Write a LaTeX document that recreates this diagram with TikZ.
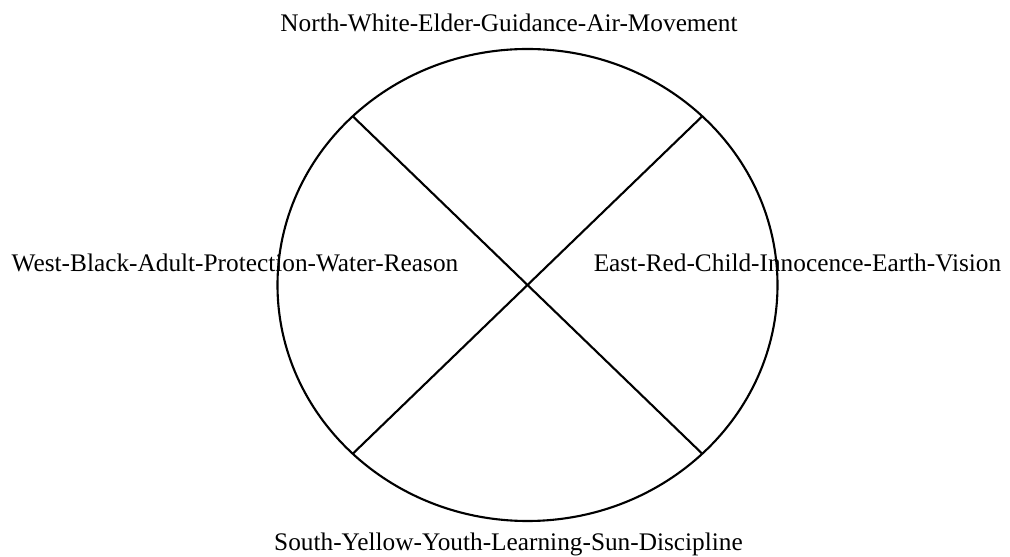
\documentclass[tikz,border=0pt]{standalone}
\usepackage{fontspec}
\setmainfont{Liberation Serif}
\usetikzlibrary{shapes.geometric}
\tikzset{
  compass/.style={font=\fontsize{7.2}{9}\selectfont,inner sep=0pt,anchor=base},
  ring/.style={draw,ellipse,line width=0.6pt,inner sep=0pt,outer sep=0pt,
               minimum width=5cm,minimum height=4.72cm},
  spoke/.style={line width=0.6pt},
}
\begin{document}
\begin{tikzpicture}
  \useasboundingbox (0,0) rectangle (10.10,5.57);

  % the circle and its two crossing spokes
  \node[ring] (wheel) at (5.275,2.72) {};
  \draw[spoke] (wheel.136) -- (wheel.-44);
  \draw[spoke] (wheel.44) -- (wheel.-136);

  % the four directions
  \node[compass] (north) at (5.09,5.253) {North-White-Elder-Guidance-Air-Movement};
  \node[compass] (south) at (5.085,0.07) {South-Yellow-Youth-Learning-Sun-Discipline};
  \node[compass] (west) at (2.35,2.85) {West-Black-Adult-Protection-Water-Reason};
  \node[compass] (east) at (7.975,2.85) {East-Red-Child-Innocence-Earth-Vision};
\end{tikzpicture}
\end{document}
